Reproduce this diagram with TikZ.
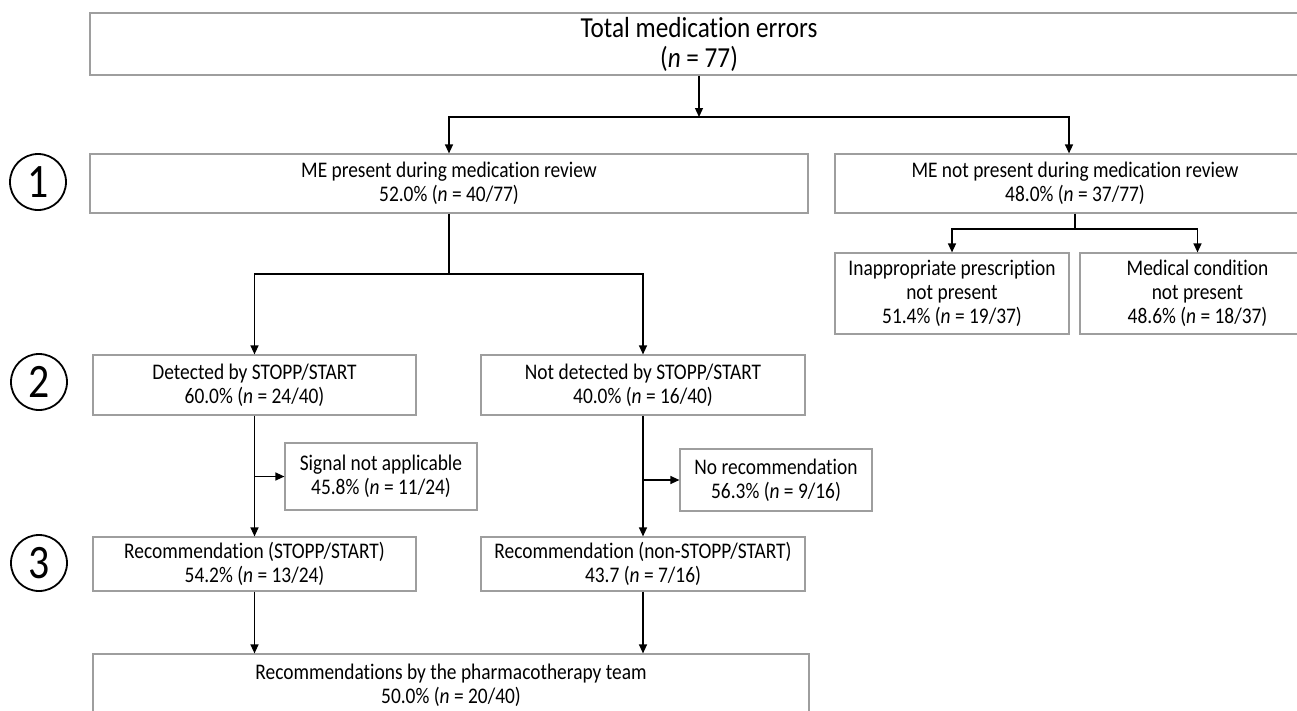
\documentclass[tikz,border=0pt]{standalone}
\usepackage{fontspec}
\setmainfont{Carlito}[FakeStretch=0.87,RawFeature={-liga;-clig;-calt;-dlig}]
\usetikzlibrary{arrows.meta}
\begin{document}
\begin{tikzpicture}[x=1pt,y=-1pt,
  box/.style={draw=black!38, line width=1.2pt, inner sep=0pt, align=center,
    font=\fontsize{22.3}{24}\selectfont},
  bigbox/.style={box, font=\fontsize{29}{30}\selectfont},
  arr/.style={line width=1.3pt, -{Triangle[length=9pt,width=8pt]}},
  ln/.style={line width=1.3pt},
  stepnum/.style={circle, draw=black, line width=1.8pt, minimum size=56pt, inner sep=0pt,
    font=\fontsize{48}{50}\selectfont}]
\useasboundingbox (0,0) rectangle (1297,710);
% boxes
\node[bigbox, minimum width=1218pt, minimum height=62pt] (total) at (699,44) {Total medication errors\\(\textit{n} = 77)};
\node[box, minimum width=718pt, minimum height=59pt] (mep) at (449,183.5) {ME present during medication review\\52.0\% (\textit{n} = 40/77)};
\node[box, minimum width=480pt, minimum height=59pt] (menp) at (1075,183.5) {ME not present during medication review\\48.0\% (\textit{n} = 37/77)};
\node[box, minimum width=234pt, minimum height=81pt] (inap) at (952,293.5) {Inappropriate prescription\\not present\\51.4\% (\textit{n} = 19/37)};
\node[box, minimum width=235pt, minimum height=81pt] (medc) at (1197.5,293.5) {Medical condition\\not present\\48.6\% (\textit{n} = 18/37)};
\node[box, minimum width=323pt, minimum height=60pt] (det) at (254.5,385) {Detected by STOPP/START\\60.0\% (\textit{n} = 24/40)};
\node[box, minimum width=324pt, minimum height=60pt] (ndet) at (643,385) {Not detected by STOPP/START\\40.0\% (\textit{n} = 16/40)};
\node[box, minimum width=192pt, minimum height=67pt] (sig) at (381,476.5) {Signal not applicable\\45.8\% (\textit{n} = 11/24)};
\node[box, minimum width=192pt, minimum height=62pt] (norec) at (776,480) {No recommendation\\56.3\% (\textit{n} = 9/16)};
\node[box, minimum width=323pt, minimum height=54pt] (rec1) at (254.5,564) {Recommendation (STOPP/START)\\54.2\% (\textit{n} = 13/24)};
\node[box, minimum width=324pt, minimum height=54pt] (rec2) at (643,564) {Recommendation (non-STOPP/START)\\43.7 (\textit{n} = 7/16)};
\node[box, minimum width=716pt, minimum height=62pt] (team) at (451,685) {Recommendations by the pharmacotherapy team\\50.0\% (\textit{n} = 20/40)};
% step numbers
\node[stepnum] (s1) at (38,182) {1};
\node[stepnum] (s2) at (39,382) {2};
\node[stepnum] (s3) at (39,563) {3};
% connectors
\coordinate (j1) at (699,117);
\coordinate (j2) at (449,274);
\coordinate (j3) at (1075,229);
\draw[arr] (total.south) -- (j1);
\draw[arr] (j1) -| (mep.north);
\draw[arr] (j1) -| ([xshift=-6pt]menp.north);
\draw[ln] (mep.south) -- (j2);
\draw[arr] (j2) -| (det.north);
\draw[arr] (j2) -| (ndet.north);
\draw[ln] (menp.south) -- (j3);
\draw[arr] (j3) -| (inap.north);
\draw[arr] (j3) -| (medc.north);
\draw[arr] (det.south) -- (rec1.north);
\draw[arr] (det.south |- sig.west) -- (sig.west);
\draw[arr] (ndet.south) -- (rec2.north);
\draw[arr] (ndet.south |- norec.west) -- (norec.west);
\draw[arr] (rec1.south) -- (rec1.south |- team.north);
\draw[arr] (rec2.south) -- (rec2.south |- team.north);
\end{tikzpicture}
\end{document}
